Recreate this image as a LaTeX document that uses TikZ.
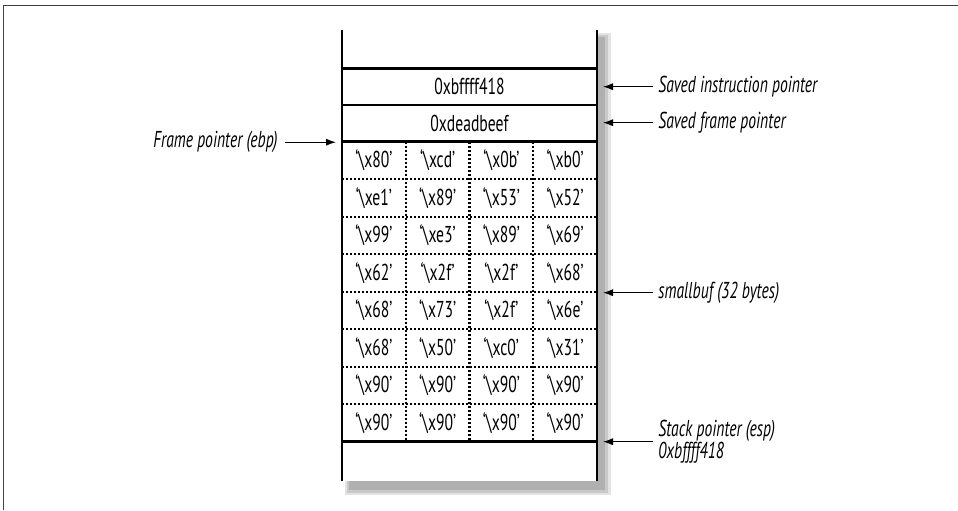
\documentclass[tikz,border=0pt]{standalone}
\usepackage{fontspec}
\setmainfont[FakeStretch=0.68]{PT Sans}
\usetikzlibrary{arrows.meta, positioning}

\begin{document}
\begin{tikzpicture}[x=0.5pt, y=-0.5pt,
    every node/.style={font=\fontsize{11.5}{11}\selectfont},
    cell/.style={minimum width=31.875pt, minimum height=18.75pt, inner sep=0pt},
    word/.style={minimum width=127.5pt, minimum height=18.3pt, inner sep=0pt},
    note/.style={font=\itshape\fontsize{11.5}{11}\selectfont, align=left, inner sep=0pt},
    arr/.style={-{Latex[length=5pt, width=3.6pt]}, line width=0.6pt},
    edge/.style={line width=1.3pt},
    dots/.style={line width=1.1pt, dash pattern=on 1pt off 1pt}
  ]
  \useasboundingbox (0,0) rectangle (958,510);
  % frame
  \draw[black!75, line width=0.5pt] (3,510) -- (3,5) -- (958,5);

  % shadow
  \fill[gray!22] (345,33) rectangle (611,495);
  \fill[gray!42] (347,35) rectangle (608,493);
  \fill[gray!62] (349,37) rectangle (605,490);
  \fill[white] (342,30) rectangle (597,481);

  % saved words
  \node[word] (ipc) at (469.5,86.7) {0xbffff418};
  \node[word] (fpc) at (469.5,123.3) {0xdeadbeef};

  % smallbuf bytes
  \foreach \vals [count=\i] in {{80,cd,0b,b0},{e1,89,53,52},{99,e3,89,69},{62,2f,2f,68},
                                {68,73,2f,6e},{68,50,c0,31},{90,90,90,90},{90,90,90,90}}
    \foreach \v [count=\j] in \vals
      \node[cell] (b-\i-\j) at ({342+63.75*(\j-0.5)},{141.7+37.5*(\i-0.5)}) {‘\textbackslash x\v’};

  % grid
  \foreach \i in {1,...,7}
    \draw[dots] (342,{141.7+37.5*\i}) -- (597,{141.7+37.5*\i});
  \foreach \j in {1,2,3}
    \draw[dots] ({342+63.75*\j},141.7) -- ({342+63.75*\j},441.7);
  \foreach \yy in {68.3,105,141.7,441.7}
    \draw[edge] (342,\yy) -- (597,\yy);
  \draw[edge] (342,30) -- (342,481);
  \draw[edge] (597,30) -- (597,481);

  % labels
  \node[note, anchor=west] (sip) at (658,86.7) {Saved instruction pointer};
  \node[note, anchor=west] (sfp) at (658,122.7) {Saved frame pointer};
  \node[note, anchor=west] (buf) at (658,292.7) {smallbuf (32 bytes)};
  \node[note, anchor=west] (esp) at (658,441.7) {Stack pointer (esp)\\0xbffff418};
  \node[note, anchor=east] (ebp) at (278,142.2) {Frame pointer (ebp)};

  \coordinate (sip-to) at (603,86.7);
  \coordinate (sfp-to) at (603,122.7);
  \coordinate (buf-to) at (603,292.7);
  \coordinate (esp-to) at (603,441.7);
  \coordinate (ebp-to) at (336,142.2);

  \draw[arr, shorten <=2.6pt] (sip.west) -- (sip-to);
  \draw[arr, shorten <=2.6pt] (sfp.west) -- (sfp-to);
  \draw[arr, shorten <=2.6pt] (buf.west) -- (buf-to);
  \draw[arr, shorten <=2.6pt] (esp.west) -- (esp-to);
  \draw[arr, shorten <=3.5pt] (ebp.east) -- (ebp-to);
\end{tikzpicture}
\end{document}
